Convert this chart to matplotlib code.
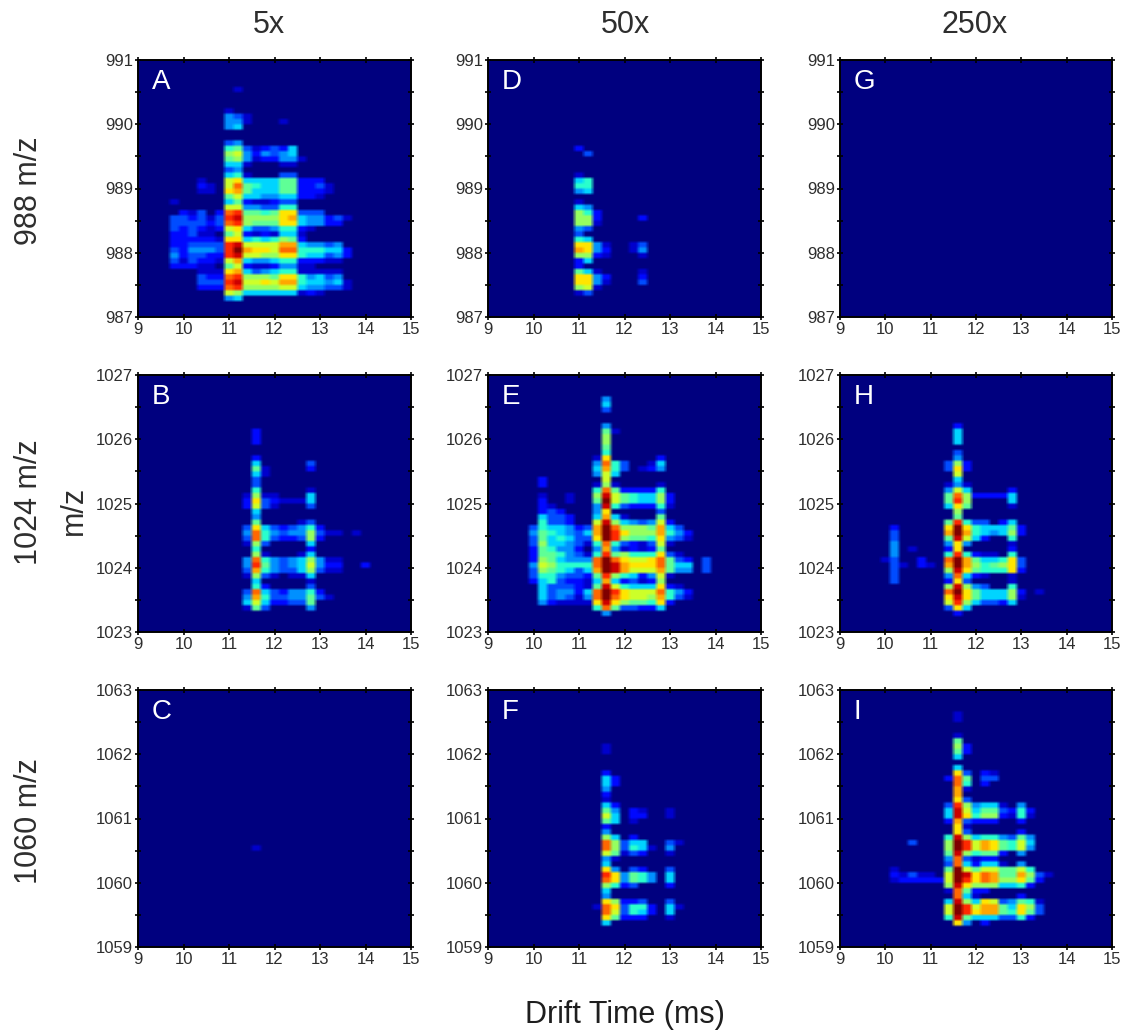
import numpy as np
import matplotlib
matplotlib.use("Agg")
import matplotlib.pyplot as plt

plt.rcParams['font.family'] = ['Liberation Sans', 'DejaVu Sans']

# Intensity levels 0-f. One string per m/z row, bottom row first.
# Each string starts at the 9.6 ms drift bin and steps by 0.2 ms; spaces are only for reading.
# The first string of each panel is the 4th m/z row of the panel (rows are 1/12 m/z high).
panel_a = ["0000000 45", "0000000 98 555555 121", "0000222 cd 888899 544331", "0000333 de 99a9bb 655451",
           "0000322 cd 8887aa 645340", "0000111 ab 534566 11111", "0222110 79 211244 11", "0313221 9b 544566 22211",
           "0423322 de 9988aa 655342", "0324443 df baa9cc 666552", "0223333 de 9999bb 54434", "0222221 aa 565687 2",
           "0223110 79 212155 1", "0323212 9a 533466 21", "0333323 cd 8777aa 54422", "0332313 de 8888ab 544231",
           "0021302 cd 7767aa 333", "0000000 99 443366", "0100000 57 211233", "0000000 79 554455 221",
           "0000110 ab 755577 2221", "0000210 9c 765577 2231", "0000100 9a 555577 222", "0000000 56 100033",
           "0000000 34", "0000000 55 100011", "0000000 78 412244 1", "0000000 89 424345", "0000000 67 312325",
           "0000000 34", "", "", "0000000 45", "0000000 44 10001", "0000000 43 1", "0000000 10", "", "", "",
           "0000000 01"]
panel_b = ["", "000000000 17300004", "000000000 59522337", "000000000 4b63344731", "000000000 3c5324462",
           "000000000 06200003", "000000000 05000001", "000000000 18310115", "000000000 3b643358311",
           "000000000 4d743459422002", "000000000 4c643458411", "000000000 08100015", "000000000 06000002",
           "000000000 18300005", "000000000 3c6322382", "000000000 4c64344831101", "000000000 3a5323462",
           "000000000 07000013", "000000000 04", "000000000 05", "000000000 29310003", "000000000 2a321115",
           "000000000 18110005", "000000000 06000001", "000000000 03", "000000000 03", "000000000 051",
           "000000000 07100002", "000000000 05000003", "000000000 02", "", "", "000000000 02", "000000000 02",
           "000000000 02"]
panel_c = [""] * 15 + ["000000000 01"]
panel_d = ["", "0000000 13", "0000000 89 1", "0000000 aa 410003", "0000000 aa 420002", "0000000 75 100001",
           "0000000 20", "0000000 25", "0000000 88 210001", "0000000 ba 420014", "0000000 aa 410013", "0000000 65",
           "0000000 30", "0000000 43", "0000000 88 1", "0000000 88 200002", "0000000 86 2", "0000000 54",
           "0000000 10", "", "0000000 45", "0000000 66", "0000000 56", "0000000 10", "", "", "", "0000000 03",
           "0000000 20"]
panel_e = ["000000000 04", "000000000 6c733225", "0004211 11 aea8776a2", "0005343 14 cfca998b631",
           "0005344 25 cfda999c642", "0005333 21 7e96555a21", "0025632 21 5b523128", "0036643 32 7d8652491",
           "0038765 35 bfeb999b74403", "0049866 66 cfebaaac75503", "0028754 44 cfca99ac73203",
           "0027764 31 6d78666a31", "0027644 20 4b412127", "0038554 31 6c6321391", "0037565 33 afd8776a431",
           "0047654 35 bfda888b642", "0036554 23 bfc8887b53", "0006332 00 9e8543492", "0005332 00 5b510007",
           "0002320 00 4a000003", "0002100 00 4e6322261", "0002001 00 7f9765582", "0001001 00 8e9765582",
           "000000000 6c722226", "0002000 00 18100001", "0002000 00 09", "000000000 495", "000000000 5b630124",
           "000000000 4c630015", "000000000 1a000002", "000000000 06", "000000000 07", "000000000 08",
           "000000000 08", "000000000 071", "000000000 04", "", "", "000000000 03", "000000000 05", "000000000 04"]
panel_f = ["", "000000000 05", "000000000 0a7222001", "000000000 0c9365205", "000000000 1ca3662051",
           "000000000 0a8223003", "000000000 04", "000000000 05", "000000000 086230002", "000000000 0ca476405",
           "000000000 0da476405", "000000000 0a4032003", "000000000 05", "000000000 041", "000000000 097132001",
           "000000000 0c8365104", "000000000 0c83550031", "000000000 08502", "000000000 04", "000000000 02",
           "000000000 07501", "000000000 095022001", "000000000 074021001", "000000000 052", "000000000 01",
           "000000000 02", "000000000 04", "000000000 052", "000000000 052", "000000000 02", "", "", "",
           "000000000 01", "000000000 01"]
panel_g = []
panel_h = ["000000000 02", "000000000 3a5", "000000000 9d853325", "000000000 aea755581", "000000000 cfa75558201",
           "000000000 8e843006", "0003000 00 2a300001", "0003000 00 4c521001", "0003000 00 8ea7666a2",
           "0003102 10 bfb8678a3", "0013002 00 cfb7556a3", "0004000 00 6d621106", "0004010 00 2a000002",
           "0004000 00 4a400001", "0003000 00 7e952006", "0003000 00 bfb654582", "0002000 00 afa655572",
           "000000000 7d633025", "000000000 07", "000000000 08", "000000000 5a700001", "000000000 7d800005",
           "000000000 7c822225", "000000000 49500002", "000000000 141", "000000000 05", "000000000 09",
           "000000000 3a2", "000000000 382", "000000000 04", "000000000 03", "", "000000000 05", "000000000 05",
           "000000000 05", "000000000 02"]
panel_i = ["", "000000000 0a402", "000000000 6e75553362", "000000000 9fdabb76a73", "000000000 9fd9bb75a83",
           "000000000 5e85a934761", "000000000 0c5100002", "000000000 1c722", "000000000 8ea8885562",
           "0001222 22 9fdacb88a72", "0002131 10 9feacb77b831", "0001000 00 7f97997796", "000000000 3c5255104",
           "000000000 4c3122", "000000000 7e8677204", "000000000 8fd9ba7694", "0000030 00 8fd9ba7695",
           "000000000 6e85664374", "000000000 0a3000002", "000000000 0a1", "000000000 2b3222002",
           "000000000 5ea6882161", "000000000 5e95773262", "000000000 3d8455104", "000000000 0a3", "000000000 0b",
           "000000000 0b1", "000000000 0c602", "000000000 2c7033", "000000000 0a3021", "000000000 05", "",
           "000000000 05", "000000000 072", "000000000 082", "000000000 07", "000000000 01", "", "",
           "000000000 01", "000000000 01"]

panel_data = [panel_a, panel_b, panel_c, panel_d, panel_e, panel_f, panel_g, panel_h, panel_i]
panel_letters = ["A", "B", "C", "D", "E", "F", "G", "H", "I"]
mz_starts = [987, 1023, 1059]
col_titles = ["5x", "50x", "250x"]
row_titles = ["988 m/z", "1024 m/z", "1060 m/z"]
x_ticks = [9, 10, 11, 12, 13, 14, 15]

W, H = 1124, 1031
col_px = [(138, 273), (488, 273), (840, 272)]
row_px = [(60, 317), (375, 632), (690, 947)]
title_x = [269, 625, 975]
row_title_y = [191, 502, 821]
INK = "#2e2e2e"
UP = 6


def to_grid(rows):
    grid = np.zeros((48, 31))
    for r, text in enumerate(rows):
        vals = [int(ch, 16) for ch in text.replace(" ", "")]
        grid[r + 3, 3:3 + len(vals)] = vals
    return grid


def soften(rgb):
    # the reference is a slightly soft scan: upsample the cells, then a very small box blur
    big = np.repeat(np.repeat(rgb, UP, axis=0), UP, axis=1)
    for axis, size in ((0, 3), (1, 3)):
        pad = [(0, 0)] * 3
        pad[axis] = (size // 2, size // 2)
        padded = np.pad(big, pad, mode="edge")
        big = sum(np.take(padded, range(k, k + big.shape[axis]), axis=axis) for k in range(size)) / size
    return big


fig = plt.figure(figsize=(W / 100, H / 100), dpi=100, facecolor="white")
cmap = plt.get_cmap("jet")

for i, (rows, letter) in enumerate(zip(panel_data, panel_letters)):
    col, row = i // 3, i % 3
    left, width = col_px[col]
    top, bottom = row_px[row]
    ax = fig.add_axes([left / W, 1 - bottom / H, width / W, (bottom - top) / H])
    base = mz_starts[row]
    rgb = cmap(to_grid(rows) / 15.0)[:, :, :3]
    ax.imshow(soften(rgb), origin="lower", extent=[8.9, 15.1, base, base + 4], aspect="auto",
              interpolation="antialiased")
    ax.set_xlim(9, 15)
    ax.set_ylim(base, base + 4)
    ax.set_xticks(x_ticks)
    ax.set_yticks(np.arange(base, base + 5))
    ax.set_yticks(np.arange(base + 0.5, base + 4, 1), minor=True)
    ax.tick_params(which="both", direction="inout", top=True, right=True, length=5, width=1.2,
                   color="black", labelsize=12, labelcolor=INK, pad=1)
    for spine in ax.spines.values():
        spine.set_linewidth(1.4)
        spine.set_color("black")
    ax.text(0.05, 0.915, letter, transform=ax.transAxes, color="white", fontsize=20, va="center", ha="left")

for x, title in zip(title_x, col_titles):
    fig.text(x / W, 1 - 25 / H, title, fontsize=22, color=INK, ha="center", va="center")
for y, title in zip(row_title_y, row_titles):
    fig.text(29 / W, 1 - y / H, title, fontsize=22, color=INK, rotation=90, ha="center", va="center")
fig.text(74 / W, 1 - 510 / H, "m/z", fontsize=22, color=INK, rotation=90, ha="center", va="center")
fig.text(625 / W, 1 - 1015 / H, "Drift Time (ms)", fontsize=22, color="#1e1e1e", ha="center", va="center")

fig.savefig("out.png", dpi=100)
